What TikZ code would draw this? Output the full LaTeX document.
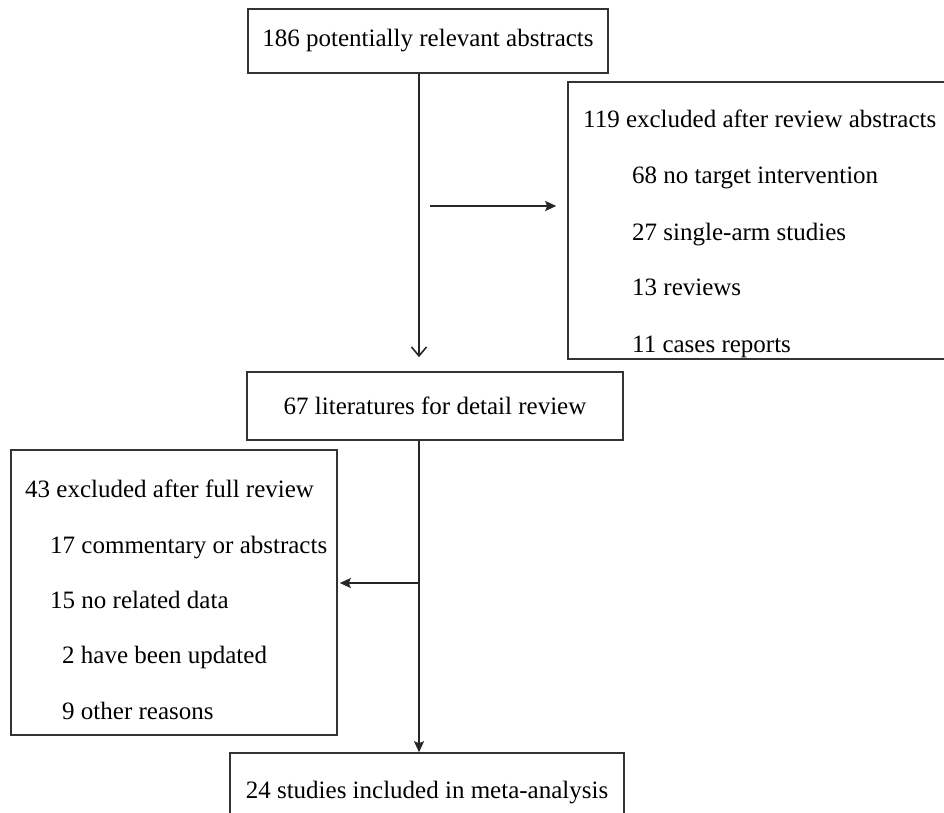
\documentclass[tikz,border=0pt]{standalone}
\usepackage{fontspec}
\setmainfont{Liberation Serif}
\usetikzlibrary{arrows.meta}
\tikzset{
	box/.style={draw=black!80, line width=1.6pt, inner sep=0pt,
		font=\fontsize{25}{30}\selectfont},
	item/.style={anchor=base west, inner sep=0pt,
		font=\fontsize{25}{30}\selectfont},
	flow/.style={draw=black!85, line width=1.6pt},
	shut/.style={-{Stealth[length=11pt,width=10pt,inset=2pt]}},
	open/.style={-{Straight Barb[length=9pt,width=15pt]}}
}
\begin{document}
\begin{tikzpicture}[x=1pt,y=-1pt]
		\useasboundingbox (0,0) rectangle (944,812);
		% main column
		\node[box, minimum width=360pt, minimum height=64pt] (abs) at (428,41) {186 potentially relevant abstracts};
		\node[box, minimum width=376pt, minimum height=68pt] (det) at (435,406) {67 literatures for detail review};
		\node[box, minimum width=394pt, minimum height=80pt] (inc) at (427,793) {24 studies included in meta-analysis};
		% excluded after abstracts
		\node[box, minimum width=380pt, minimum height=277pt] (exa) at (758,220.5) {};
		\node[item] (a0) at (583,127) {119 excluded after review abstracts};
		\node[item] (a1) at (632,183) {68 no target intervention};
		\node[item] (a2) at (632,240) {27 single-arm studies};
		\node[item] (a3) at (632,295) {13 reviews};
		\node[item] (a4) at (632,352) {11 cases reports};
		% excluded after full review
		\node[box, minimum width=326pt, minimum height=285pt] (exf) at (174,592.5) {};
		\node[item] (f0) at (25,497) {43 excluded after full review};
		\node[item] (f1) at (50,553) {17 commentary or abstracts};
		\node[item] (f2) at (50,608) {15 no related data};
		\node[item] (f3) at (62,663) {2 have been updated};
		\node[item] (f4) at (62,719) {9 other reasons};
		% connectors
		\coordinate (spine) at (419,0);
		\coordinate (h1) at (430,206);
		\coordinate (h2) at (419,583);
		\draw[flow, open, shorten >=14pt] (spine |- abs.south) -- (spine |- det.north);
		\draw[flow, shut] (spine |- det.south) -- (spine |- inc.north);
		\draw[flow, shut, shorten >=11pt] (h1) -- (h1 -| exa.west);
		\draw[flow, shut, shorten >=2pt] (h2) -- (h2 -| exf.east);
	\end{tikzpicture}
\end{document}
